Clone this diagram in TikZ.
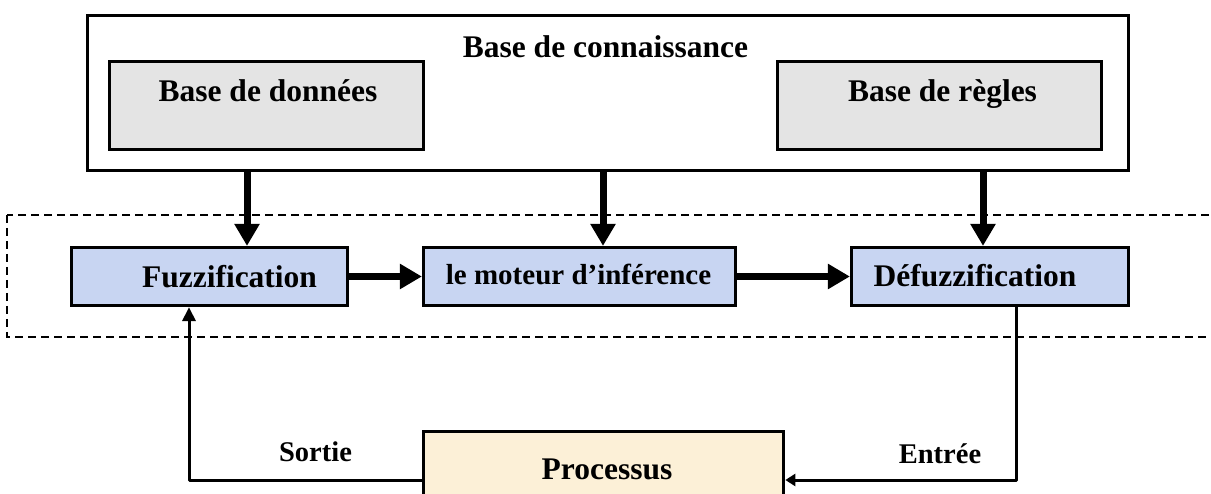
\documentclass[tikz,border=0pt]{standalone}
\usepackage{fontspec}
\setmainfont{Liberation Serif}
\usetikzlibrary{arrows.meta,calc}

\definecolor{stonegray}{RGB}{228,228,228}
\definecolor{paleblue}{RGB}{200,213,242}
\definecolor{cream}{RGB}{252,240,215}

\tikzset{
  box/.style={draw=black, line width=3.2pt, inner sep=0pt, rectangle},
  graybox/.style={box, fill=stonegray},
  bluebox/.style={box, fill=paleblue},
  label text/.style={inner sep=0pt, anchor=base, font=\fontsize{31.5}{36}\selectfont\bfseries},
  small text/.style={inner sep=0pt, anchor=base, font=\fontsize{28.5}{34}\selectfont\bfseries},
  bigarrow/.style={line width=7pt, -{Triangle[width=24pt,length=22pt]}},
  thinarrow/.style={line width=3pt, line join=round},
  zone/.style={draw=black, line width=2.3pt, dash pattern=on 8pt off 5pt}
}

\begin{document}
\begin{tikzpicture}[x=1pt, y=-1pt]
  \useasboundingbox (0,0) rectangle (1211,494);
  \clip (0,0) rectangle (1211,494);

  % knowledge base and its two parts
  \node[box, line width=2.8pt, minimum width=1041pt, minimum height=155pt] (kb) at (608,93) {};
  \node[graybox, minimum width=314pt, minimum height=88pt] (bdd) at (266.5,105.5) {};
  \node[graybox, minimum width=324pt, minimum height=88pt] (bdr) at (939.5,105.5) {};
  \node[label text] (kbT) at (605.5,58) {Base de connaissance};
  \node[label text] (bddT) at (268,102) {Base de données};
  \node[label text] (bdrT) at (942.5,102) {Base de règles};

  % fuzzy controller zone
  \draw[zone] (7,215) rectangle (1240,337);

  \node[bluebox, minimum width=276pt, minimum height=58pt] (fuzz) at (209.5,276.5) {};
  \node[bluebox, minimum width=312pt, minimum height=58pt] (mot) at (579.5,276.5) {};
  \node[bluebox, minimum width=277pt, minimum height=58pt] (defz) at (990,276.5) {};
  \node[label text] (fuzzT) at (229.5,288) {Fuzzification};
  \node[label text, font=\fontsize{29}{34}\selectfont\bfseries] (motT) at (578.5,285) {le moteur d’inférence};
  \node[label text] (defzT) at (975,287) {Défuzzification};

  % process
  \node[box, fill=cream, minimum width=360pt, minimum height=117pt] (proc) at (603.75,490) {};
  \node[label text] (procT) at (607,479) {Processus};

  % knowledge feeding the stages
  \draw[bigarrow] ([xshift=37.5pt]fuzz.north |- kb.south) -- ([xshift=37.5pt]fuzz.north);
  \draw[bigarrow] ([xshift=23.5pt]mot.north |- kb.south) -- ([xshift=23.5pt]mot.north);
  \draw[bigarrow] ([xshift=-7pt]defz.north |- kb.south) -- ([xshift=-7pt]defz.north);

  % stage chain
  \draw[bigarrow] (fuzz.east) -- (mot.west);
  \draw[bigarrow] (mot.east) -- (defz.west);

  % loop through the process
  \coordinate (sortieY) at (0,480);
  \draw[thinarrow, -{Triangle[width=13pt,length=14pt]}]
    (proc.west |- sortieY) -| ([xshift=-20.5pt]fuzz.south);
  \draw[thinarrow, -{Triangle[width=12pt,length=10pt]}]
    ([xshift=26pt]defz.south) |- (proc.east |- sortieY);

  \node[small text] (sortie) at (315.5,461) {Sortie};
  \node[small text] (entree) at (940,463) {Entrée};
\end{tikzpicture}
\end{document}
